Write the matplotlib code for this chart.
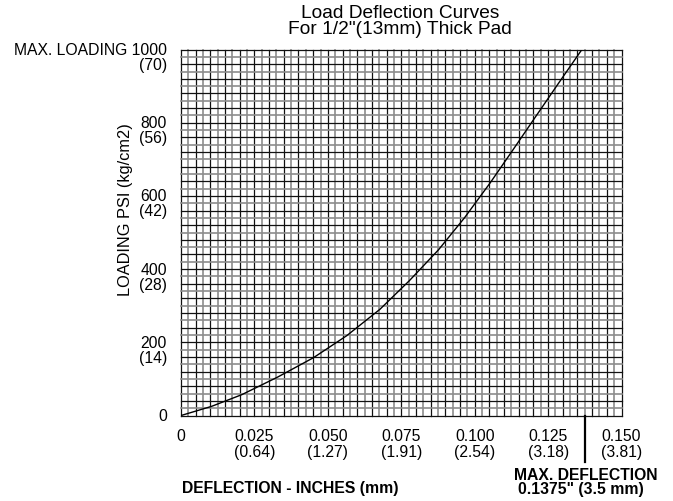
import matplotlib
matplotlib.use("Agg")
import matplotlib.pyplot as plt
import matplotlib.transforms as mtransforms

plt.rcParams['font.family'] = ['Liberation Sans', 'DejaVu Sans']

# curve (deflection in inches, loading in psi)
deflection = [0, 0.0104, 0.0207, 0.0329, 0.0451, 0.0564, 0.0677, 0.0777,
              0.0877, 0.0965, 0.1053, 0.1127, 0.1201, 0.1283, 0.1365]
loading = [0, 25, 57, 105, 158, 218, 290, 368,
           453, 540, 636, 722, 809, 905, 1000]

xticks = [0, 0.025, 0.050, 0.075, 0.100, 0.125, 0.150]
xtick_in = ["0", "0.025", "0.050", "0.075", "0.100", "0.125", "0.150"]
xtick_mm = ["", "(0.64)", "(1.27)", "(1.91)", "(2.54)", "(3.18)", "(3.81)"]

yticks = [0, 200, 400, 600, 800, 1000]
ytick_psi = ["0", "200", "400", "600", "800", "MAX. LOADING 1000"]
ytick_kg = ["", "(14)", "(28)", "(42)", "(56)", "(70)"]

max_defl = 0.1375
x_step = 0.0025
y_step = 20

fs = 11.3

fig = plt.figure(figsize=(6.73, 5.02), dpi=100)
ax = fig.add_axes([0.269, 0.1703, 0.6545, 0.729])
ax.set_xlim(0, 0.15)
ax.set_ylim(0, 1000)
for s in ax.spines.values():
    s.set_visible(False)
ax.set_xticks([])
ax.set_yticks([])

# grid paper
for i in range(61):
    if i % 2 == 0:
        ax.axvline(i * x_step, color="#111111", lw=0.9, zorder=1, clip_on=False)
    else:
        ax.axvline(i * x_step, color="#8c8c8c", lw=1.2, zorder=1, clip_on=False)
for j in range(51):
    if j % 2 == 0:
        ax.axhline(j * y_step, color="#111111", lw=0.9, zorder=1, clip_on=False)
    else:
        ax.axhline(j * y_step, color="#8c8c8c", lw=1.2, zorder=1, clip_on=False)

ax.plot(deflection, loading, color="black", lw=1.0, zorder=3)

# max deflection marker
ax.axvline(max_defl, ymin=-0.126, ymax=0, color="black", lw=1.6, clip_on=False)

def off(dx, dy):
    return mtransforms.ScaledTranslation(dx / 100, dy / 100, fig.dpi_scale_trans)

xtr = ax.get_xaxis_transform()
for v, a, b in zip(xticks, xtick_in, xtick_mm):
    ax.text(v, 0, a, transform=xtr + off(0, -20), ha="center", va="center", fontsize=fs)
    if b:
        ax.text(v, 0, b, transform=xtr + off(0, -36), ha="center", va="center", fontsize=fs)

ytr = ax.get_yaxis_transform()
for v, a, b in zip(yticks, ytick_psi, ytick_kg):
    ax.text(0, v, a, transform=ytr + off(-14, 0), ha="right", va="center", fontsize=fs)
    if b:
        ax.text(0, v, b, transform=ytr + off(-14, -15), ha="right", va="center", fontsize=fs)

ax.text(max_defl, 0, "MAX. DEFLECTION", transform=xtr + off(1, -59),
        ha="center", va="center", fontsize=fs, fontweight="bold")
ax.text(max_defl, 0, "0.1375\" (3.5 mm)", transform=xtr + off(-4, -73),
        ha="center", va="center", fontsize=fs, fontweight="bold")

fig.text(0.431, 0.026, "DEFLECTION - INCHES (mm)", ha="center", va="center",
         fontsize=fs, fontweight="bold")
fig.text(0.186, 0.582, "LOADING PSI (kg/cm2)", rotation=90, ha="center", va="center",
         fontsize=11.8)

fig.text(0.5944, 0.974, "Load Deflection Curves", ha="center", va="center", fontsize=13.8)
fig.text(0.5944, 0.942, "For 1/2\"(13mm) Thick Pad", ha="center", va="center", fontsize=13.8)

fig.savefig("out.png", dpi=100)
